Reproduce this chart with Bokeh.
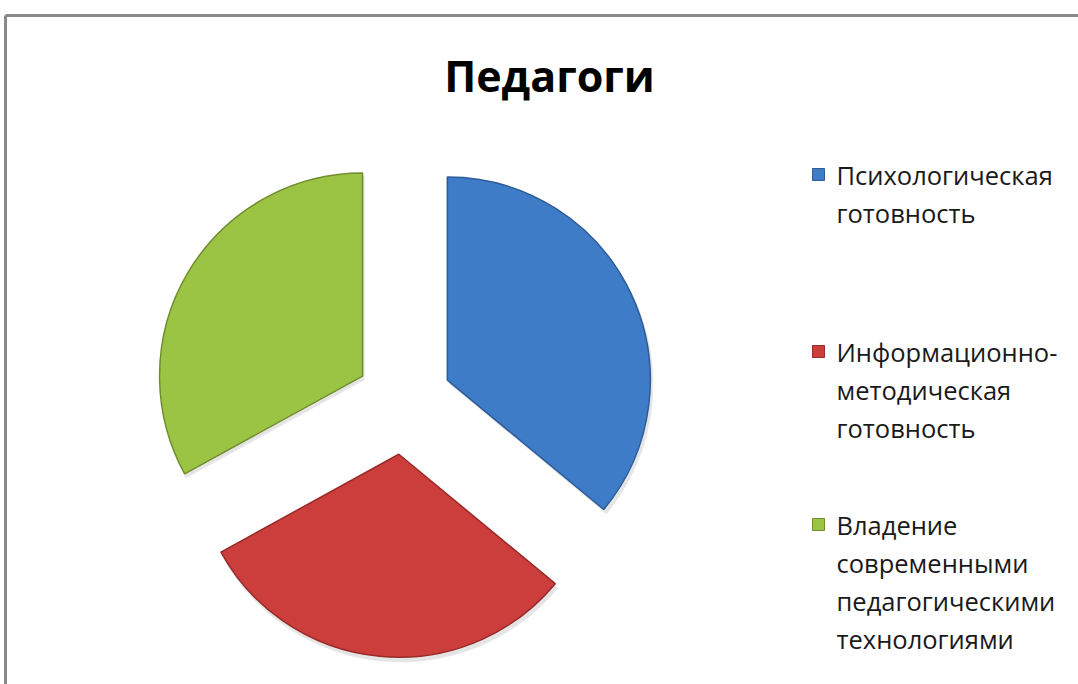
import math
from bokeh.plotting import figure
from bokeh.models import Range1d
from bokeh.core.properties import value
from bokeh.embed import file_html
from bokeh.resources import INLINE

# ---- data ----
title_text = "Педагоги"
categories = [
    "Психологическая готовность",
    "Информационно-методическая готовность",
    "Владение современными педагогическими технологиями",
]
legend_lines = [
    ["Психологическая", "готовность"],
    ["Информационно-", "методическая", "готовность"],
    ["Владение", "современными", "педагогическими", "технологиями"],
]
values = [36, 31, 33]
colors = ["#3e7cc8", "#cb3e3b", "#9bc444"]
edge_colors = ["#2d5c98", "#992a28", "#718d2e"]

# ---- layout ----
W, H = 1078, 684
FONT = "Open Sans"
explode = [48, 54, 48]


def fy(page_y):
    return H - page_y


def fx(page_x):
    return page_x


p = figure(width=W, height=H, output_backend="svg", toolbar_location=None,
           x_range=Range1d(0, W), y_range=Range1d(0, H),
           x_axis_location=None, y_axis_location=None, min_border=0)
p.grid.visible = False
p.outline_line_color = None
p.background_fill_color = "white"
p.border_fill_color = "white"

# frame border (top and left visible)
p.segment(x0=[fx(5), fx(5)], y0=[fy(15), fy(15)], x1=[W, fx(5)], y1=[fy(15), 0],
          line_color="#8a8a8a", line_width=3)

# title
p.text(x=[fx(549)], y=[fy(75)], text=[title_text], text_font=value(FONT),
       text_font_style="bold", text_font_size="43px", text_align="center",
       text_baseline="middle", text_color="black")

# exploded pie
cx, cy = fx(403.4), fy(400)
R = 203
total = float(sum(values))
theta = 0.0  # clockwise from 12 o'clock, degrees
for v, c, ec, d in zip(values, colors, edge_colors, explode):
    span = 360.0 * v / total
    a0, a1 = theta, theta + span
    mid = math.radians((a0 + a1) / 2)
    ox = cx + d * math.sin(mid)
    oy = cy + d * math.cos(mid)
    start = math.radians(90 - a1)
    end = math.radians(90 - a0)
    # soft shadow
    p.wedge(x=[ox + 2], y=[oy - 4], radius=R + 1, start_angle=start, end_angle=end,
            fill_color="#000000", fill_alpha=0.10, line_color=None)
    p.wedge(x=[ox], y=[oy], radius=R, start_angle=start, end_angle=end,
            fill_color=c, line_color=ec, line_width=1.5)
    theta = a1

# legend
group_tops = [174, 351, 524]
line_step = 38
for lines, c, ec, top in zip(legend_lines, colors, edge_colors, group_tops):
    p.rect(x=[fx(818)], y=[fy(top)], width=12, height=12,
           fill_color=c, line_color=ec, line_width=1)
    ys = [fy(top + i * line_step) for i in range(len(lines))]
    p.text(x=[fx(836)] * len(lines), y=ys, text=lines, text_font=value(FONT),
           text_font_size="25.5px", text_align="left", text_baseline="middle",
           text_color="#1a1a1a")

open("out.html", "w").write(file_html(p, INLINE))
